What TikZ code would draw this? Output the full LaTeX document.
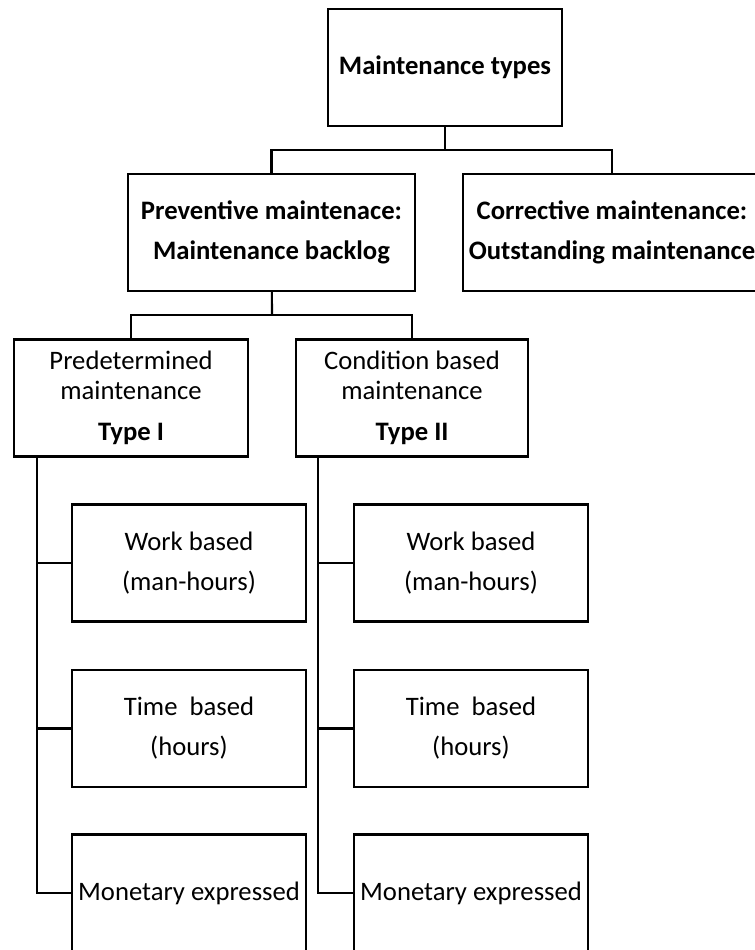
\documentclass[tikz,border=0pt]{standalone}
\usepackage{fontspec}
\setmainfont{Carlito}
\usepackage{tikz}

\begin{document}
\begin{tikzpicture}[
  x=0.75pt, y=-0.75pt,
  box/.style={draw, line width=1.6pt, align=center, inner sep=0pt,
    minimum width=175.5pt, minimum height=87.75pt,
    font=\fontsize{20}{30}\selectfont},
  wide/.style={box, minimum width=215.25pt},
  tight/.style={font=\fontsize{20}{22.5}\selectfont},
  link/.style={line width=1.6pt}
]
  \clip (0,0) rectangle (755,950);
  % top level
  \node[box] (types) at (445,67.5) {\textbf{Maintenance types}};
  \node[wide] (prev) at (271.5,232.5) {\textbf{Preventive maintenace:}\\\textbf{Maintenance backlog}};
  \node[box, minimum width=223.5pt] (corr) at (612,232.5) {\textbf{Corrective maintenance:}\\\textbf{Outstanding maintenance}};
  \coordinate (j1) at (445,150);
  \draw[link] (types) -- (j1);
  \draw[link] (j1) -| (prev.north);
  \draw[link] (j1) -| (corr.north);
  % preventive split
  \node[box, tight] (pred) at (131,398) {Predetermined\\maintenance\\[8pt]\textbf{Type I}};
  \node[box, tight, minimum width=174pt] (cond) at (412,398) {Condition based\\maintenance\\[8pt]\textbf{Type II}};
  \coordinate (j2) at (272,315);
  \draw[link] (prev) -- (j2);
  \draw[link] (j2) -| (pred.north);
  \draw[link] (j2) -| (cond.north);
  % measures
  \node[box] (lwork) at (189,563) {Work based\\(man-hours)};
  \node[box] (ltime) at (189,728.5) {Time\ \ based\\(hours)};
  \node[box] (lmon) at (189,893) {Monetary expressed};
  \node[box] (rwork) at (471,563) {Work based\\(man-hours)};
  \node[box] (rtime) at (471,728.5) {Time\ \ based\\(hours)};
  \node[box] (rmon) at (471,893) {Monetary expressed};
  \draw[link] ([xshift=18pt]pred.south west) |- (lwork.west);
  \draw[link] ([xshift=18pt]pred.south west) |- (ltime.west);
  \draw[link] ([xshift=18pt]pred.south west) |- (lmon.west);
  \draw[link] ([xshift=17.25pt]cond.south west) |- (rwork.west);
  \draw[link] ([xshift=17.25pt]cond.south west) |- (rtime.west);
  \draw[link] ([xshift=17.25pt]cond.south west) |- (rmon.west);
\end{tikzpicture}
\end{document}
